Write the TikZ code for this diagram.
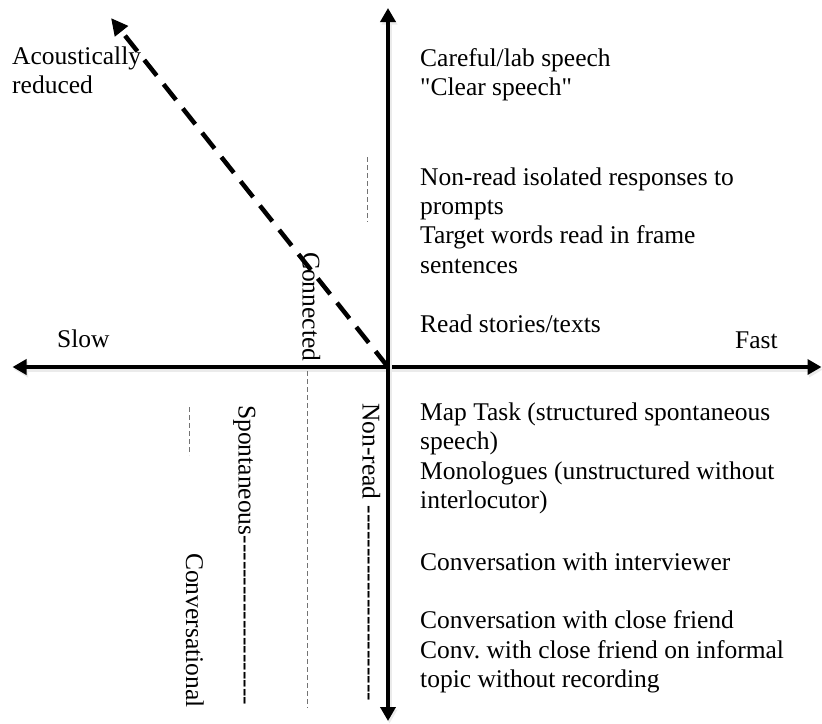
\documentclass[tikz,border=0pt]{standalone}
\usepackage{fontspec}
\setmainfont{Liberation Serif}[Ligatures=TeXOff]
\usetikzlibrary{arrows.meta}
\newcommand\hyphrun[1]{\ifnum#1>0 -\kern0pt\expandafter\hyphrun\expandafter{\the\numexpr#1-1\relax}\fi}
\frenchspacing
\begin{document}
\begin{tikzpicture}[x=1pt,y=-1pt,
  lbl/.style={inner sep=0pt, anchor=base west, align=left, font=\fontsize{25.5pt}{29.3pt}\selectfont},
  vlbl/.style={lbl, rotate=-90},
  softshadow/.style={preaction={draw=black!8, line width=5.5pt, transform canvas={shift={(1.5,2.5)}}}},
  axis/.style={softshadow, line width=3.5pt, {Triangle[length=14pt,width=15pt]}-{Triangle[length=14pt,width=15pt]}},
  diag/.style={line width=4.5pt, dash pattern=on 20pt off 11pt, -{Triangle[length=17pt,width=16pt]}},
  thin/.style={draw=black!55, line width=1pt, dash pattern=on 5pt off 3pt}]
\useasboundingbox (0,0) rectangle (822,723);
% axes
\coordinate (O) at (388,367);
\coordinate (L) at (12.5,367);
\coordinate (R) at (821.5,367);
\coordinate (T) at (388,8);
\coordinate (B) at (388,721);
\coordinate (D) at (111,18);
\draw[axis] (L) -- (R);
\draw[axis] (T) -- (B);
\draw[diag] (O) -- (D);
% thin dashed markers
\coordinate (c1a) at (307,371); \coordinate (c1b) at (307,708);
\coordinate (c2a) at (367,157); \coordinate (c2b) at (367,222);
\coordinate (c3a) at (189,407); \coordinate (c3b) at (189,455);
\draw[thin] (c1a) -- (c1b);
\draw[thin] (c2a) -- (c2b);
\draw[thin] (c3a) -- (c3b);
% right-hand labels (anchor = baseline of the last line)
\node[lbl] (careful) at (420,95.5) {Careful/lab speech\\"Clear speech"};
\node[lbl] (nonreadiso) at (420,273) {Non-read isolated responses to\\prompts\\Target words read in frame\\sentences};
\node[lbl] (readstories) at (420,332.5) {Read stories/texts};
\node[lbl] (maptask) at (420,508.5) {Map Task (structured spontaneous\\speech)\\Monologues (unstructured without\\interlocutor)};
\node[lbl] (interviewer) at (420,570) {Conversation with interviewer};
\node[lbl] (friend) at (420,687.5) {Conversation with close friend\\Conv. with close friend on informal\\topic without recording};
% axis labels
\node[lbl] (acoustic) at (12,93.5) {Acoustically\\reduced};
\node[lbl] (slow) at (57,347) {Slow};
\node[lbl] (fast) at (735,348) {Fast};
% vertical labels
\node[vlbl] (connected) at (302.5,252) {Connected};
\node[vlbl] (nonread) at (362.5,403) {Non-read \hyphrun{23}};
\node[vlbl] (spont) at (238.5,405) {Spontaneous\hyphrun{20}};
\node[vlbl] (conv) at (186,553) {Conversational};
\end{tikzpicture}
\end{document}
